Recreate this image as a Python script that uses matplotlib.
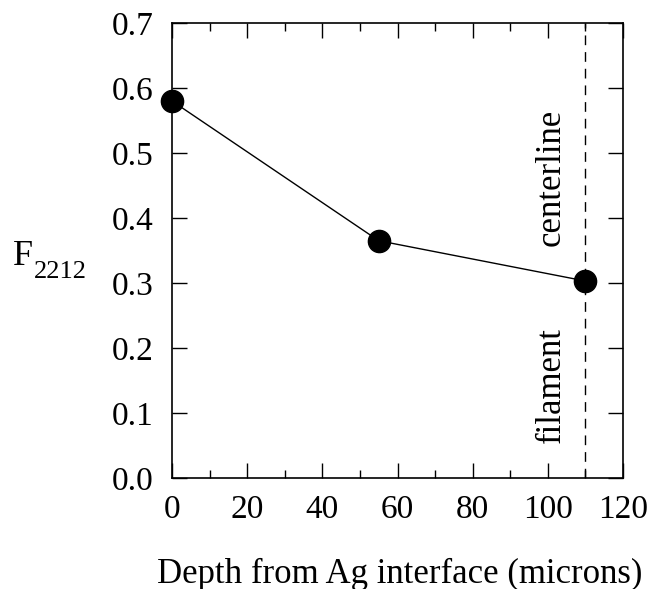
import matplotlib
matplotlib.use("Agg")
import matplotlib.pyplot as plt

# data
depth = [0, 55, 110]
f2212 = [0.58, 0.365, 0.303]
centerline_x = 110

plt.rcParams['font.family'] = ['Liberation Serif', 'DejaVu Serif']

fig = plt.figure(figsize=(6.5, 5.89), dpi=100)
ax = fig.add_axes([0.2646, 0.1885, 0.6939, 0.7725])

ax.plot(depth, f2212, color='black', lw=1.0, marker='o', markersize=16,
        markerfacecolor='black', clip_on=False, zorder=3)
ax.axvline(centerline_x, color='black', lw=1.0, ls=(0, (7, 5)))

ax.text(101, 0.463, 'centerline', rotation=90, ha='center', va='center', fontsize=25)
ax.text(101, 0.143, 'filament', rotation=90, ha='center', va='center', fontsize=25)

ax.set_xlim(0, 120)
ax.set_ylim(0, 0.7)
ax.set_xticks(range(0, 121, 20))
ax.set_xticks(range(10, 120, 20), minor=True)
ax.set_yticks([i / 10 for i in range(8)])
ax.set_yticklabels(['%.1f' % (i / 10) for i in range(8)])
ax.tick_params(which='both', direction='in', top=True, right=True, labelsize=24)
ax.tick_params(which='major', length=11, width=1)
ax.tick_params(axis='x', which='major', pad=12)
ax.tick_params(axis='y', which='major', pad=13)
ax.tick_params(which='minor', length=6, width=1)
for s in ax.spines.values():
    s.set_linewidth(1.2)

# y label: F with a large, low subscript
fig.text(13 / 650, 1 - 265 / 589, 'F', ha='left', va='baseline', fontsize=26)
fig.text(34 / 650, 1 - 278 / 589, '2212', ha='left', va='baseline', fontsize=19)
fig.text(400 / 650, 1 - 574 / 589, 'Depth from Ag interface (microns)', ha='center', va='center', fontsize=25)

fig.savefig('out.png', dpi=100)
